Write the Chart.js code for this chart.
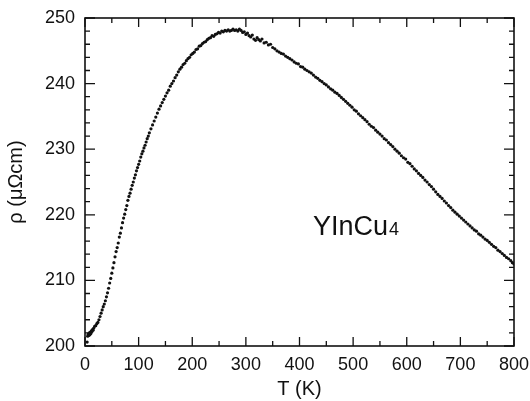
<!DOCTYPE html>
<html>
<head>
<meta charset="utf-8">
<script src="https://cdn.jsdelivr.net/npm/chart.js@4/dist/chart.umd.min.js"></script>
<style>
html,body{margin:0;padding:0;background:#fff;}
#wrap{width:530px;height:401px;position:relative;}
</style>
</head>
<body>
<div id="wrap"><canvas id="c" width="530" height="401"></canvas></div>
<script>
// Temperature (K)
const temperature = [
4,5,6,7,8,9,10,11,12,13,14,15,16,18,20,22,24,26,
28,30,32,34,36,38,40,42,44,46,48,50,52,54,56,58,60,62,64,66,68,70,
72,74,76,78,80,82,84,86,88,90,92,94,96,98,100,102,104,106,108,110,
112,114,116,118,120,123,126,129,132,135,138,141,144,147,150,153,156,159,162,165,
168,171,174,177,180,183,186,189,192,195,198,201,204,207,210,213,216,219,222,225,
228,231,234,237,240,243,246,249,252,255,258,261,264,267,270,273,276,279,282,285,
288,291,294,297,300,303,306,309,312,315,318,321,324,327,330,334,338,342,346,350,
354,358,362,366,370,374,378,382,386,390,394,398,402,406,410,414,418,422,426,430,
434,438,442,446,450,454,458,462,466,470,474,478,482,486,490,494,498,502,506,510,
514,518,522,526,530,534,538,542,546,550,554,558,562,566,570,574,578,582,586,590,
594,598,602,606,610,614,618,622,626,630,634,638,642,646,650,654,658,662,666,670,
674,678,682,686,690,694,698,702,706,710,714,718,722,726,730,734,738,742,746,750,
754,758,762,766,770,774,778,782,786,790,794,797,800
];
// Resistivity (μΩcm)
const resistivity = [
200.6,201.5,201.8,201.6,202.0,201.7,202.1,201.9,202.3,202.2,202.5,202.4,202.7,203.0,203.1,203.4,203.6,204.0,
204.5,205.0,205.5,206.0,206.4,206.9,207.5,208.1,208.8,209.6,210.3,211.1,211.9,212.7,213.6,214.4,215.0,215.7,216.6,217.2,218.0,218.8,
219.5,220.1,220.8,221.4,222.2,222.8,223.3,223.9,224.5,225.0,225.6,226.1,226.7,227.2,227.7,228.2,228.8,229.3,229.7,230.2,
230.6,231.1,231.6,232.0,232.5,233.1,233.7,234.3,234.9,235.5,236.1,236.6,237.1,237.6,238.1,238.6,239.0,239.6,240.0,240.4,
240.9,241.3,241.8,242.2,242.5,242.9,243.1,243.5,243.8,244.0,244.4,244.6,244.8,245.2,245.3,245.7,245.8,246.1,246.3,246.4,
246.7,246.9,247.0,247.3,247.2,247.5,247.6,247.8,247.7,248.0,247.9,248.1,248.0,248.2,248.0,248.1,248.3,248.1,248.2,248.0,
248.3,248.1,247.8,247.9,247.5,247.7,247.3,247.1,247.4,246.8,246.6,247.0,246.7,246.5,246.8,246.2,246.3,245.9,246.0,245.5,
245.3,245.0,244.8,244.6,244.5,244.2,244.0,243.8,243.6,243.3,243.1,243.0,242.6,242.5,242.2,242.0,241.8,241.6,241.3,241.0,
240.8,240.5,240.3,240.0,239.8,239.5,239.2,239.0,238.7,238.5,238.2,237.9,237.6,237.3,237.0,236.7,236.4,236.0,235.8,235.4,
235.1,234.8,234.5,234.2,233.8,233.5,233.3,232.9,232.6,232.3,232.0,231.6,231.4,231.0,230.7,230.4,230.0,229.7,229.4,229.0,
228.7,228.5,228.0,227.8,227.4,227.0,226.7,226.3,226.0,225.7,225.3,225.0,224.6,224.3,223.9,223.5,223.1,222.8,222.5,222.1,
221.8,221.4,221.1,220.7,220.4,220.1,219.8,219.5,219.2,218.9,218.6,218.3,218.0,217.7,217.5,217.1,216.9,216.6,216.3,216.1,
215.8,215.5,215.2,215.0,214.6,214.4,214.1,213.8,213.5,213.3,213.0,212.7,212.5
];
const xTickValues = [0,100,200,300,400,500,600,700,800];
const yTickValues = [200,210,220,230,240,250];
const xLabel = 'T (K)';
const yLabel = 'ρ (μΩcm)';
const sampleMain = 'YInCu';
const sampleSub = '4';
const sampleAt = {x: 425, y: 216.9};

const points = temperature.map((t, i) => ({x: t, y: resistivity[i]}));

const FONT = '"Liberation Sans", Arial, Helvetica, sans-serif';

const framePlugin = {
  id: 'frame',
  afterDraw(chart) {
    const {ctx, chartArea: a, scales: {x, y}} = chart;
    ctx.save();
    ctx.strokeStyle = '#111';
    ctx.lineWidth = 1.6;
    ctx.strokeRect(a.left, a.top, a.right - a.left, a.bottom - a.top);
    ctx.lineWidth = 1.3;
    ctx.beginPath();
    for (let v = x.min; v <= x.max + 1e-6; v += 50) {
      const px = x.getPixelForValue(v);
      const len = (v % 100 === 0) ? 9 : 5;
      ctx.moveTo(px, a.bottom); ctx.lineTo(px, a.bottom - len);
      ctx.moveTo(px, a.top); ctx.lineTo(px, a.top + len);
    }
    for (let v = y.min; v <= y.max + 1e-6; v += 2) {
      const py = y.getPixelForValue(v);
      const len = (Math.round(v) % 10 === 0) ? 10 : 5;
      ctx.moveTo(a.left, py); ctx.lineTo(a.left + len, py);
      ctx.moveTo(a.right, py); ctx.lineTo(a.right - len, py);
    }
    ctx.stroke();
    // sample annotation
    ctx.fillStyle = '#111';
    ctx.textBaseline = 'alphabetic';
    ctx.textAlign = 'left';
    ctx.font = '27px ' + FONT;
    const px = x.getPixelForValue(sampleAt.x);
    const py = y.getPixelForValue(sampleAt.y);
    const w = ctx.measureText(sampleMain).width;
    ctx.fillText(sampleMain, px, py);
    ctx.font = '18px ' + FONT;
    ctx.fillText(sampleSub, px + w + 1, py);
    ctx.restore();
  }
};

new Chart(document.getElementById('c'), {
  type: 'scatter',
  data: {
    datasets: [{
      data: points,
      pointRadius: 1.6,
      pointBorderWidth: 0,
      pointBackgroundColor: '#111',
      pointHoverRadius: 1.6
    }]
  },
  options: {
    responsive: false,
    animation: false,
    devicePixelRatio: 1,
    layout: {padding: {top: 18, right: 16, left: 0, bottom: 0}},
    plugins: {legend: {display: false}, tooltip: {enabled: false}},
    scales: {
      x: {
        type: 'linear', min: 0, max: 800,
        afterBuildTicks(s) { s.ticks = xTickValues.map(v => ({value: v})); },
        afterFit(s) { s.height = 55; s.paddingLeft = 0; s.paddingRight = 0; },
        grid: {display: false, drawTicks: false, tickLength: 0},
        border: {display: false},
        ticks: {color: '#111', font: {family: FONT, size: 18}, padding: 8, maxRotation: 0},
        title: {display: true, text: xLabel, color: '#111', font: {family: FONT, size: 20}, padding: {top: 0, bottom: 0}}
      },
      y: {
        type: 'linear', min: 200, max: 250,
        afterBuildTicks(s) { s.ticks = yTickValues.map(v => ({value: v})); },
        afterFit(s) { s.width = 85; s.paddingTop = 0; s.paddingBottom = 0; },
        grid: {display: false, drawTicks: false, tickLength: 0},
        border: {display: false},
        ticks: {color: '#111', font: {family: FONT, size: 18}, padding: 10},
        title: {display: true, text: yLabel, color: '#111', font: {family: FONT, size: 20}, padding: {top: 4, bottom: 0}}
      }
    }
  },
  plugins: [framePlugin]
});
</script>
</body>
</html>
